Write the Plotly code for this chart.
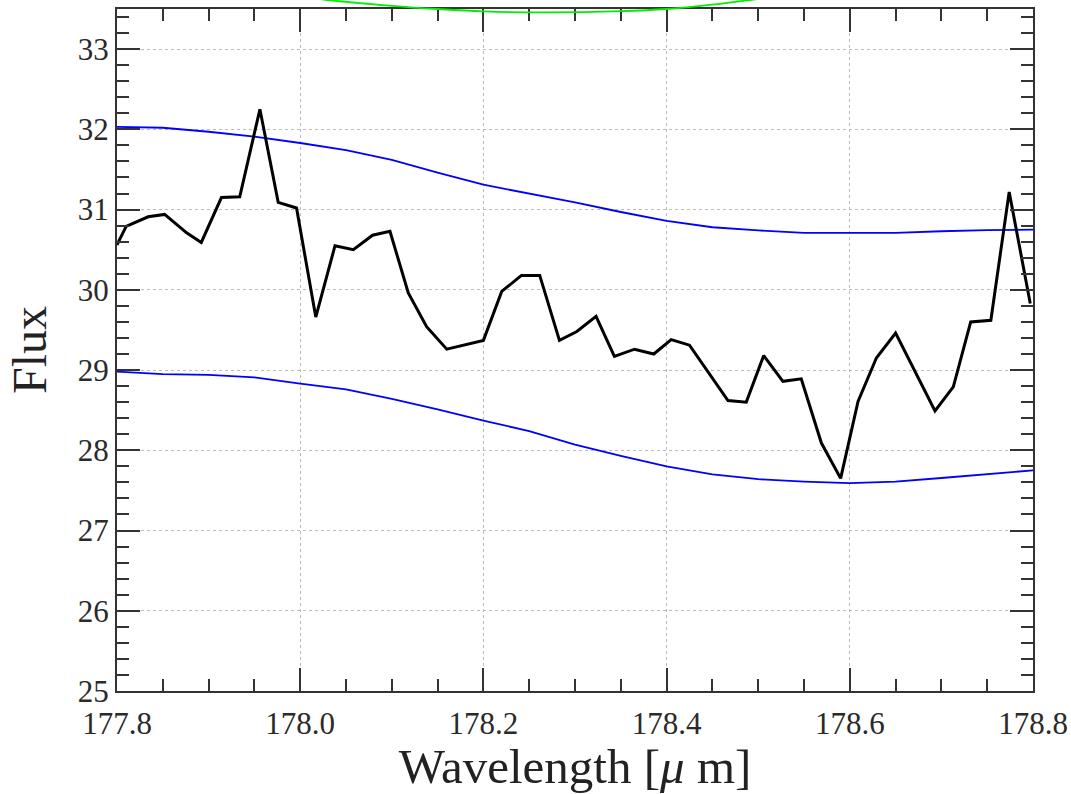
import plotly.graph_objects as go

# ---- data ----
wavelength = [177.800, 177.810, 177.834, 177.852, 177.876, 177.892, 177.914, 177.934,
              177.956, 177.976, 177.996, 178.017, 178.038, 178.058, 178.079, 178.098,
              178.118, 178.138, 178.160, 178.200, 178.220, 178.2415, 178.2615, 178.283,
              178.302, 178.323, 178.343, 178.365, 178.386, 178.405, 178.425, 178.467,
              178.487, 178.506, 178.527, 178.547, 178.569, 178.590, 178.609, 178.629,
              178.650, 178.693, 178.713, 178.732, 178.754, 178.774, 178.797]
flux = [30.56, 30.79, 30.91, 30.94, 30.71, 30.59, 31.15, 31.16,
        32.25, 31.09, 31.02, 29.66, 30.55, 30.50, 30.68, 30.73,
        29.96, 29.54, 29.26, 29.37, 29.98, 30.18, 30.18, 29.37,
        29.48, 29.67, 29.17, 29.26, 29.20, 29.38, 29.31, 28.62,
        28.60, 29.18, 28.86, 28.89, 28.09, 27.65, 28.61, 29.15,
        29.46, 28.49, 28.79, 29.60, 29.62, 31.22, 29.83]

band_wl = [177.80, 177.85, 177.90, 177.95, 178.00, 178.05, 178.10, 178.15, 178.20, 178.25,
           178.30, 178.35, 178.40, 178.45, 178.50, 178.55, 178.60, 178.65, 178.70, 178.75, 178.80]
upper = [32.03, 32.02, 31.97, 31.91, 31.83, 31.74, 31.62, 31.46, 31.31, 31.20,
         31.09, 30.97, 30.86, 30.78, 30.74, 30.71, 30.71, 30.71, 30.73, 30.745, 30.75]
lower = [28.98, 28.95, 28.94, 28.91, 28.83, 28.76, 28.64, 28.51, 28.37, 28.24,
         28.07, 27.93, 27.80, 27.70, 27.64, 27.61, 27.59, 27.61, 27.655, 27.70, 27.75]

green_wl = [177.98, 178.03, 178.10, 178.15, 178.20, 178.27, 178.35, 178.40, 178.45, 178.50, 178.55]
green_flux = [33.69, 33.612, 33.54, 33.50, 33.47, 33.458, 33.473, 33.50, 33.555, 33.625, 33.69]

x_range = [177.8, 178.8]
y_range = [25, 33.5]
x_ticks = [177.8, 178.0, 178.2, 178.4, 178.6, 178.8]
y_ticks = [25, 26, 27, 28, 29, 30, 31, 32, 33]

FONT = "Liberation Serif, DejaVu Serif, serif"
H = 794
MB = 103
plot_h = H - MB          # plot area (margin t=0)
top_gap = 9              # pixels between figure top and axis frame
dom_top = (plot_h - top_gap) / plot_h
px_per_unit = (plot_h - top_gap) / (y_range[1] - y_range[0])
y2_top = y_range[0] + plot_h / px_per_unit

fig = go.Figure()

fig.add_trace(go.Scatter(x=band_wl, y=upper, mode="lines",
                         line=dict(color="#0000ff", width=1.8), showlegend=False))
fig.add_trace(go.Scatter(x=band_wl, y=lower, mode="lines",
                         line=dict(color="#0000ff", width=1.8), showlegend=False))
fig.add_trace(go.Scatter(x=wavelength, y=flux, mode="lines",
                         line=dict(color="#000000", width=3), showlegend=False))
# green model curve, drawn on an invisible overlay that extends above the frame
fig.add_trace(go.Scatter(x=green_wl, y=green_flux, mode="lines",
                         line=dict(color="#00ee00", width=1.8, shape="spline"),
                         xaxis="x2", yaxis="y2", showlegend=False))

axis_common = dict(
    showline=True, linecolor="#333333", linewidth=2, mirror="allticks",
    ticks="inside", ticklen=23, tickwidth=1.5, tickcolor="#333333",
    showgrid=True, gridcolor="#bbbbbb", griddash="3px,3px", gridwidth=1,
    zeroline=False,
)

fig.update_layout(
    width=1071, height=H,
    margin=dict(l=117, r=38, t=0, b=MB),
    paper_bgcolor="white", plot_bgcolor="rgba(0,0,0,0)",
    xaxis=dict(range=x_range, tickvals=x_ticks, tickformat=".1f", ticklabelstandoff=4,
               tickfont=dict(family=FONT, size=31, color="#2a2a2a"),
               minor=dict(dtick=0.05, ticks="inside", ticklen=12, tickwidth=1.5,
                          tickcolor="#333333", showgrid=False),
               title=dict(text="Wavelength [<i>μ</i> m]",
                          font=dict(family=FONT, size=49, color="#222222"), standoff=7),
               **axis_common),
    yaxis=dict(range=y_range, tickvals=y_ticks, domain=[0, dom_top],
               tickfont=dict(family=FONT, size=31, color="#2a2a2a"),
               minor=dict(dtick=0.2, ticks="inside", ticklen=12, tickwidth=1.5,
                          tickcolor="#333333", showgrid=False),
               title=dict(text="Flux", font=dict(family=FONT, size=48, color="#222222"),
                          standoff=16),
               **axis_common),
    xaxis2=dict(range=x_range, anchor="y2", overlaying="x", visible=False),
    yaxis2=dict(range=[y_range[0], y2_top], domain=[0, 1], anchor="x2", visible=False),
)

fig.write_html("out.html")
